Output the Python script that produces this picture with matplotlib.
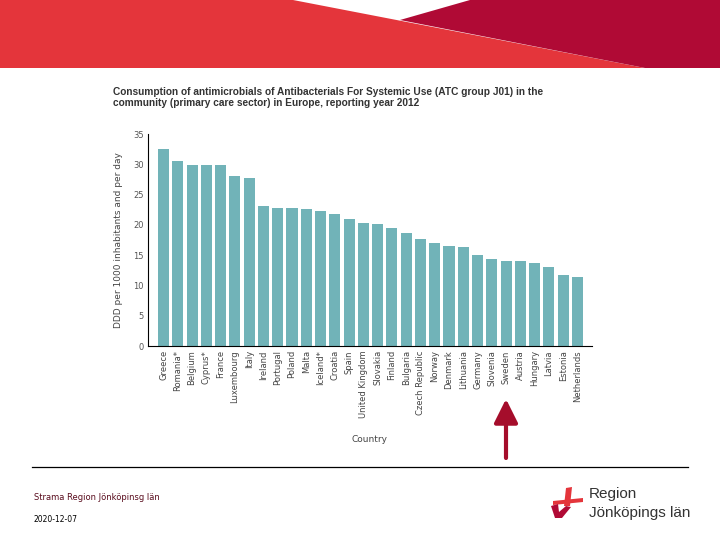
import numpy as np
import matplotlib
matplotlib.use("Agg")
import matplotlib.pyplot as plt
from matplotlib.patches import Polygon

# --- Data: DDD per 1000 inhabitants and per day, 2012 ---
countries = ["Greece", "Romania*", "Belgium", "Cyprus*", "France", "Luxembourg",
             "Italy", "Ireland", "Portugal", "Poland", "Malta", "Iceland*",
             "Croatia", "Spain", "United Kingdom", "Slovakia", "Finland",
             "Bulgaria", "Czech Republic", "Norway", "Denmark", "Lithuania",
             "Germany", "Slovenia", "Sweden", "Austria", "Hungary", "Latvia",
             "Estonia", "Netherlands"]
ddd = [32.5, 30.5, 29.9, 29.9, 29.9, 28.1,
       27.7, 23.1, 22.8, 22.8, 22.6, 22.3,
       21.8, 21.0, 20.3, 20.1, 19.5,
       18.7, 17.7, 17.0, 16.5, 16.3,
       15.0, 14.4, 14.1, 14.1, 13.7, 13.0,
       11.7, 11.4]
yticks = [0, 5, 10, 15, 20, 25, 30, 35]

W, H = 720, 540
fig = plt.figure(figsize=(7.2, 5.4), dpi=100)

# --- background layer in pixel coordinates (header, footer, logo) ---
bg = fig.add_axes([0, 0, 1, 1])
bg.set_xlim(0, W)
bg.set_ylim(H, 0)
bg.axis("off")

red = "#e4353b"
crimson = "#b00a35"
bg.add_patch(Polygon([(0, 0), (293, 0), (645, 68), (0, 68)], closed=True, color=red, lw=0))
bg.add_patch(Polygon([(400, 20), (470, 0), (720, 0), (720, 68), (645, 68)], closed=True,
                     color=crimson, lw=0))

# footer rule and texts
bg.plot([32, 688], [467, 467], color="black", lw=0.9)
bg.text(34, 497, "Strama Region Jönköpinsg län", fontsize=6, color="#5a0d1e",
        va="center", ha="left")
bg.text(34, 519, "2020-12-07", fontsize=5.5, color="black", va="center", ha="left")

# logo
bg.add_patch(Polygon([(566, 488), (572, 487), (570, 506), (564, 506)], closed=True,
                     color=red, lw=0))
bg.add_patch(Polygon([(553, 501), (583, 498), (583, 502), (553, 505)], closed=True,
                     color=red, lw=0))
bg.add_patch(Polygon([(551, 506), (558, 504), (559, 512), (566, 506), (571, 507),
                      (562, 518), (555, 518)], closed=True, color=crimson, lw=0))
bg.text(589, 494, "Region", fontsize=11, color="#333333", va="center", ha="left",
        family="Liberation Sans")
bg.text(589, 513, "Jönköpings län", fontsize=11, color="#333333", va="center", ha="left",
        family="Liberation Sans")

# arrow pointing at Sweden
bg.annotate("", xy=(506, 399), xytext=(506, 458),
            arrowprops=dict(arrowstyle="-|>,head_width=0.45,head_length=0.9",
                            lw=3, color="#a50d2b", shrinkA=0, shrinkB=0,
                            mutation_scale=16))

# title
fig.text(113 / W, 1 - 87 / H,
         "Consumption of antimicrobials of Antibacterials For Systemic Use (ATC group J01) in the\n"
         "community (primary care sector) in Europe, reporting year 2012",
         fontsize=7.3, fontweight="bold", color="#333333", ha="left", va="top",
         linespacing=1.15, family="Liberation Sans")

# --- bar chart ---
ax = fig.add_axes([148 / W, 1 - 346 / H, 444 / W, 212 / H])
x = np.arange(len(countries))
ax.bar(x, ddd, width=0.78, color="#71b3b8")
ax.set_xlim(-1.09, len(countries) + 0.02)
ax.set_ylim(0, 35)
ax.set_yticks(yticks)
ax.set_xticks(x)
ax.set_xticklabels(countries, rotation=90, fontsize=6, color="#444444")
ax.tick_params(axis="both", length=0, pad=3)
ax.tick_params(axis="y", labelsize=6, labelcolor="#555555")
for s in ["top", "right"]:
    ax.spines[s].set_visible(False)
ax.spines["left"].set_linewidth(0.8)
ax.spines["bottom"].set_linewidth(0.8)

ax.set_ylabel("DDD per 1000 inhabitants and per day", fontsize=6.5, color="#444444")
ax.yaxis.set_label_coords(-0.056, 0.5)
ax.set_xlabel("Country", fontsize=6.5, color="#444444")
ax.xaxis.set_label_coords(0.5, -0.42)

fig.savefig("out.png", dpi=100)
